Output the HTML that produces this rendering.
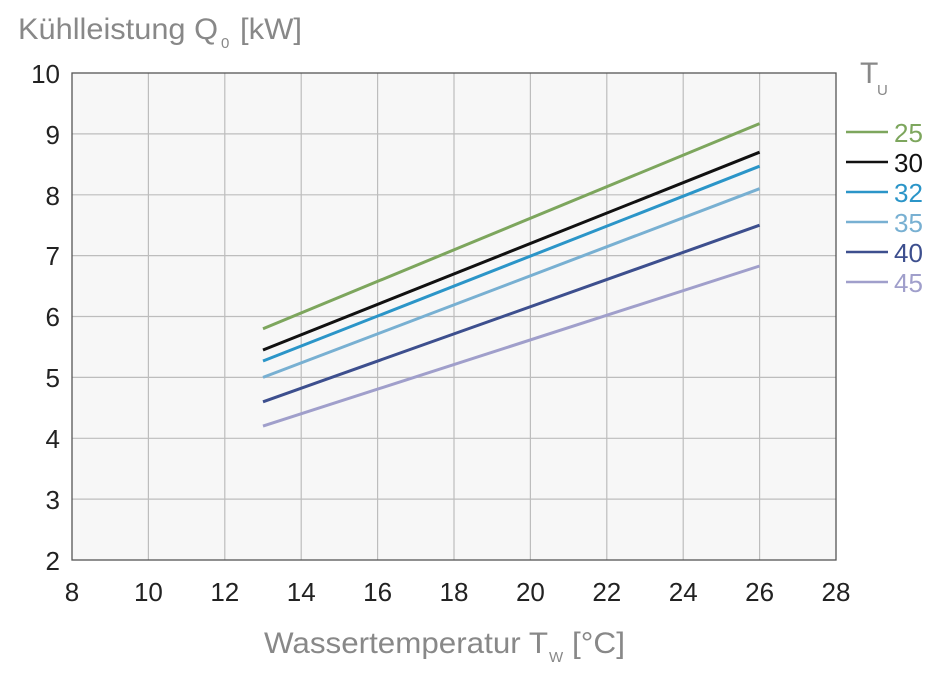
<!DOCTYPE html>
<html><head><meta charset="utf-8"><style>
html,body{margin:0;padding:0;background:#fff;}
svg{display:block;font-family:"Liberation Sans",sans-serif;}
</style></head><body>
<svg width="944" height="675" viewBox="0 0 944 675">
<rect x="72" y="73" width="764" height="487" fill="#f7f7f7"/>
<g stroke="#bdbdbd" stroke-width="1.2">
<line x1="148.4" y1="73" x2="148.4" y2="560"/><line x1="224.8" y1="73" x2="224.8" y2="560"/>
<line x1="301.2" y1="73" x2="301.2" y2="560"/><line x1="377.6" y1="73" x2="377.6" y2="560"/>
<line x1="454" y1="73" x2="454" y2="560"/><line x1="530.4" y1="73" x2="530.4" y2="560"/>
<line x1="606.8" y1="73" x2="606.8" y2="560"/><line x1="683.2" y1="73" x2="683.2" y2="560"/>
<line x1="759.6" y1="73" x2="759.6" y2="560"/>
<line x1="72" y1="133.9" x2="836" y2="133.9"/><line x1="72" y1="194.8" x2="836" y2="194.8"/>
<line x1="72" y1="255.6" x2="836" y2="255.6"/><line x1="72" y1="316.5" x2="836" y2="316.5"/>
<line x1="72" y1="377.4" x2="836" y2="377.4"/><line x1="72" y1="438.3" x2="836" y2="438.3"/>
<line x1="72" y1="499.1" x2="836" y2="499.1"/>
</g>
<rect x="72" y="73" width="764" height="487" fill="none" stroke="#555" stroke-width="1.3"/>
<g stroke-width="3" fill="none">
<line x1="263" y1="328.7" x2="759.6" y2="123.6" stroke="#7da65d"/>
<line x1="263" y1="350" x2="759.6" y2="152.2" stroke="#111"/>
<line x1="263" y1="361" x2="759.6" y2="166.2" stroke="#2b95c8"/>
<line x1="263" y1="377.4" x2="759.6" y2="188.7" stroke="#78b0d2"/>
<line x1="263" y1="401.8" x2="759.6" y2="225.2" stroke="#3d4f8e"/>
<line x1="263" y1="426.1" x2="759.6" y2="266" stroke="#a09fcb"/>
</g>
<g font-size="26" fill="#222" text-anchor="end">
<text x="60" y="83">10</text><text x="60" y="144">9</text><text x="60" y="205">8</text>
<text x="60" y="265">7</text><text x="60" y="326">6</text><text x="60" y="387">5</text>
<text x="60" y="448">4</text><text x="60" y="509">3</text><text x="60" y="570">2</text>
</g>
<g font-size="26" fill="#222" text-anchor="middle">
<text x="72" y="601">8</text><text x="148.4" y="601">10</text><text x="224.8" y="601">12</text>
<text x="301.2" y="601">14</text><text x="377.6" y="601">16</text><text x="454" y="601">18</text>
<text x="530.4" y="601">20</text><text x="606.8" y="601">22</text><text x="683.2" y="601">24</text>
<text x="759.6" y="601">26</text><text x="836" y="601">28</text>
</g>
<g font-size="30" fill="#888">
<text x="18" y="39" textLength="200" lengthAdjust="spacingAndGlyphs">Kühlleistung Q</text>
<text x="221" y="48" font-size="15">0</text>
<text x="240" y="39" textLength="62" lengthAdjust="spacingAndGlyphs">[kW]</text>
<text x="264" y="653" textLength="284" lengthAdjust="spacingAndGlyphs">Wassertemperatur T</text>
<text x="549" y="662" font-size="15">W</text>
<text x="572" y="653" textLength="53" lengthAdjust="spacingAndGlyphs">[°C]</text>
<text x="860" y="83">T</text>
<text x="877" y="95" font-size="15">U</text>
</g>
<g stroke-width="2.5">
<line x1="846" y1="132" x2="888" y2="132" stroke="#7da65d"/>
<line x1="846" y1="162" x2="888" y2="162" stroke="#111"/>
<line x1="846" y1="192" x2="888" y2="192" stroke="#2b95c8"/>
<line x1="846" y1="222" x2="888" y2="222" stroke="#78b0d2"/>
<line x1="846" y1="252" x2="888" y2="252" stroke="#3d4f8e"/>
<line x1="846" y1="282" x2="888" y2="282" stroke="#a09fcb"/>
</g>
<g font-size="26">
<text x="894" y="142" fill="#7da65d">25</text>
<text x="894" y="172" fill="#111">30</text>
<text x="894" y="202" fill="#2b95c8">32</text>
<text x="894" y="232" fill="#78b0d2">35</text>
<text x="894" y="262" fill="#3d4f8e">40</text>
<text x="894" y="292" fill="#a09fcb">45</text>
</g>
</svg>
</body></html>
